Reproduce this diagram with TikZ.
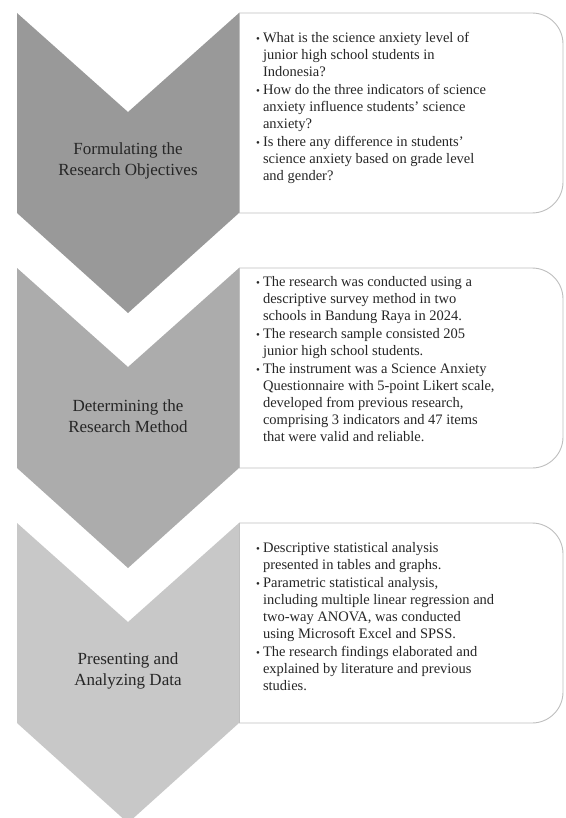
\documentclass[tikz,border=0pt]{standalone}
\usepackage{fontspec}
\setmainfont{Liberation Serif}
\usetikzlibrary{positioning}
\definecolor{stepA}{RGB}{153,153,153}
\definecolor{stepB}{RGB}{172,172,172}
\definecolor{stepC}{RGB}{200,200,200}
\definecolor{cardline}{RGB}{190,190,190}
\newcommand{\dotitem}{{\fontsize{11}{11}\selectfont\textbullet}}

\begin{document}
\begin{tikzpicture}[x=1pt,y=-1pt,
		lbl/.style={align=center,font=\fontsize{17}{21}\selectfont,text=black!85},
		card/.style={draw=cardline,fill=white,line width=0.9pt},
		txt/.style={anchor=west,inner sep=0pt,font=\fontsize{14.5}{17}\selectfont,text=black!85}
		]
		
		\useasboundingbox (0,0) rectangle (565,818);
		
		% chevrons
		\fill [stepA] (17,13) -- (128,112) -- (239,13) -- (239,213) -- (128,313) -- (17,213) -- cycle;
		\fill [stepB] (17,268) -- (128,367) -- (239,268) -- (239,468) -- (128,568) -- (17,468) -- cycle;
		\fill [stepC] (17,523) -- (128,622) -- (239,523) -- (239,723) -- (128,823) -- (17,723) -- cycle;
		
		% cards, rounded on the right only
		\path [card,rounded corners=31pt] (239,13) -- (563,13) -- (563,213) -- (239,213);
		\draw [card] (239,13) -- (239,213);
		\path [card,rounded corners=31pt] (239,268) -- (563,268) -- (563,468) -- (239,468);
		\draw [card] (239,268) -- (239,468);
		\path [card,rounded corners=31pt] (239,523) -- (563,523) -- (563,723) -- (239,723);
		\draw [card] (239,523) -- (239,723);
		
		\node [lbl] (objectives) at (128,161) {Formulating the\\Research Objectives};
		\node [lbl] (method) at (128,416) {Determining the\\Research Method};
		\node [lbl] (data) at (128,671) {Presenting and\\Analyzing Data};
		
		\node [txt] (objectives text) at (256,108) {\begin{tabular}{@{}l@{\hspace{3pt}}l@{}}
				\dotitem & What is the science anxiety level of\\
				& junior high school students in\\
				& Indonesia?\\[1pt]
				\dotitem & How do the three indicators of science\\
				& anxiety influence students' science\\
				& anxiety?\\[1pt]
				\dotitem & Is there any difference in students'\\
				& science anxiety based on grade level\\
				& and gender?
		\end{tabular}};
		
		\node [txt] (method text) at (256,361) {\begin{tabular}{@{}l@{\hspace{3pt}}l@{}}
				\dotitem & The research was conducted using a\\
				& descriptive survey method in two\\
				& schools in Bandung Raya in 2024.\\[1pt]
				\dotitem & The research sample consisted 205\\
				& junior high school students.\\[1pt]
				\dotitem & The instrument was a Science Anxiety\\
				& Questionnaire with 5-point Likert scale,\\
				& developed from previous research,\\
				& comprising 3 indicators and 47 items\\
				& that were valid and reliable.
		\end{tabular}};
		
		\node [txt] (data text) at (256,618) {\begin{tabular}{@{}l@{\hspace{3pt}}l@{}}
				\dotitem & Descriptive statistical analysis\\
				& presented in tables and graphs.\\[1pt]
				\dotitem & Parametric statistical analysis,\\
				& including multiple linear regression and\\
				& two-way ANOVA, was conducted\\
				& using Microsoft Excel and SPSS.\\[1pt]
				\dotitem & The research findings elaborated and\\
				& explained by literature and previous\\
				& studies.
		\end{tabular}};
		
	\end{tikzpicture}
\end{document}
